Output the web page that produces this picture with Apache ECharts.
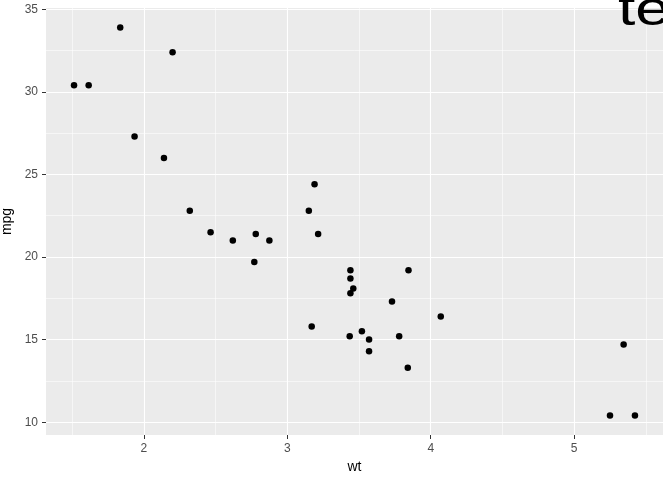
<!DOCTYPE html>
<html>
<head>
<meta charset="utf-8">
<script src="https://cdn.jsdelivr.net/npm/echarts@6/dist/echarts.min.js"></script>
<style>html,body{margin:0;padding:0;background:#fff}#c{width:672px;height:480px}</style>
</head>
<body>
<div id="c"></div>
<script>
var wt = [2.620, 2.875, 2.320, 3.215, 3.440, 3.460, 3.570, 3.190, 3.150, 3.440, 3.440, 4.070, 3.730, 3.780, 5.250, 5.424, 5.345, 2.200, 1.615, 1.835, 2.465, 3.520, 3.435, 3.840, 3.845, 1.935, 2.140, 1.513, 3.170, 2.770, 3.570, 2.780];
var mpg = [21.0, 21.0, 22.8, 21.4, 18.7, 18.1, 14.3, 24.4, 22.8, 19.2, 17.8, 16.4, 17.3, 15.2, 10.4, 10.4, 14.7, 32.4, 30.4, 33.9, 21.5, 15.5, 15.2, 13.3, 19.2, 27.3, 26.0, 30.4, 15.8, 19.7, 15.0, 21.4];
var xTicks = [2, 3, 4, 5];
var yTicks = [10, 15, 20, 25, 30, 35];
var xMinor = [1.5, 2.5, 3.5, 4.5, 5.5];
var yMinor = [12.5, 17.5, 22.5, 27.5, 32.5];
var annotation = "text";

var xMin = 1.3175, xMax = 5.6195, yMin = 9.225, yMax = 35.075;

function gridLines(xs, ys) {
  var d = [];
  xs.forEach(function (v) { d.push({ xAxis: v }); });
  ys.forEach(function (v) { d.push({ yAxis: v }); });
  return d;
}
var pts = wt.map(function (w, i) { return [w, mpg[i]]; });
var font = '"Liberation Sans", Arial, sans-serif';

var chart = echarts.init(document.getElementById('c'), null, { renderer: 'canvas' });
chart.setOption({
  animation: false,
  backgroundColor: '#ffffff',
  grid: { left: 46, right: 9, top: 8, bottom: 45, show: true, backgroundColor: '#EBEBEB', borderWidth: 0,
          containLabel: false, outerBoundsMode: 'none' },
  xAxis: {
    type: 'value', min: xMin, max: xMax,
    name: 'wt', nameLocation: 'middle', nameGap: 23,
    nameTextStyle: { color: '#000', fontSize: 14, fontFamily: font },
    axisLine: { show: false },
    axisTick: { show: true, length: 4, lineStyle: { color: '#333333', width: 1 }, customValues: xTicks },
    axisLabel: { color: '#4D4D4D', fontSize: 12, fontFamily: font, margin: 8, customValues: xTicks, formatter: function (v) { return String(v); } },
    splitLine: { show: false }
  },
  yAxis: {
    type: 'value', min: yMin, max: yMax,
    name: 'mpg', nameLocation: 'middle', nameGap: 21, nameRotate: 90,
    nameTextStyle: { color: '#000', fontSize: 14, fontFamily: font },
    axisLine: { show: false },
    axisTick: { show: true, length: 4, lineStyle: { color: '#333333', width: 1 }, customValues: yTicks },
    axisLabel: { color: '#4D4D4D', fontSize: 12, fontFamily: font, margin: 8, customValues: yTicks, formatter: function (v) { return String(v); } },
    splitLine: { show: false }
  },
  series: [
    {
      type: 'scatter', data: [[wt[0], mpg[0]]], symbolSize: 0, silent: true, z: 1,
      markLine: { silent: true, symbol: ['none', 'none'], label: { show: false }, animation: false,
        lineStyle: { color: '#ffffff', width: 0.55, type: 'solid' }, emphasis: { disabled: true },
        data: gridLines(xMinor, yMinor) }
    },
    {
      type: 'scatter', data: [[wt[0], mpg[0]]], symbolSize: 0, silent: true, z: 1,
      markLine: { silent: true, symbol: ['none', 'none'], label: { show: false }, animation: false,
        lineStyle: { color: '#ffffff', width: 1.1, type: 'solid' }, emphasis: { disabled: true },
        data: gridLines(xTicks, yTicks) }
    },
    {
      type: 'scatter', data: pts, symbol: 'circle', symbolSize: 6.5, z: 5,
      itemStyle: { color: '#000000', opacity: 1 }
    }
  ],
  graphic: [
    { type: 'text', left: 618, top: -12, scaleX: 1.3, z: 10, silent: true,
      style: { text: annotation, fill: '#000000', font: '48px ' + font } },
    { type: 'rect', shape: { x: 663, y: 0, width: 9, height: 480 }, z: 20, silent: true,
      style: { fill: '#ffffff' } }
  ]
});
</script>
</body>
</html>
